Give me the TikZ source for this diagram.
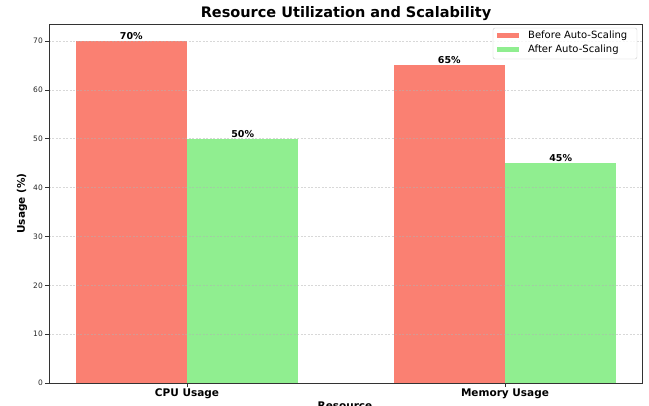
\documentclass[tikz,border=0pt]{standalone}
\usepackage{fontspec}
\setmainfont{DejaVu Sans}
\usepackage{xcolor}
\usepackage{tikz}
\usetikzlibrary{positioning}

\definecolor{salmonbar}{RGB}{250,128,114}
\definecolor{greenbar}{RGB}{144,238,144}

\tikzset{
    gridline/.style={gray!60, dash pattern=on 2pt off 1.5pt, line width=0.4pt, opacity=0.5},
    axisframe/.style={black!80, line width=0.6pt},
    ticklabel/.style={font=\fontsize{7.5}{9}\selectfont, text=black!85, inner sep=0pt},
    vallabel/.style={font=\bfseries\fontsize{9.5}{11}\selectfont, anchor=base, inner sep=0pt},
    axislabel/.style={font=\bfseries\fontsize{10.5}{12}\selectfont, inner sep=0pt},
    legendtext/.style={font=\fontsize{10}{12}\selectfont, anchor=west, inner sep=0pt}
}

\begin{document}
\begin{tikzpicture}[x=1pt, y=1pt]
    \useasboundingbox (0,0) rectangle (649,405);

    % Titolo
    \node[font=\bfseries\fontsize{14.5}{17}\selectfont] (title) at (346,391) {Resource Utilization and Scalability};

    \begin{scope}[shift={(187,22)}, x=318pt, y=4.886pt]
        % Le barre (prima / dopo)
        \fill[salmonbar] (-0.35,0) rectangle (0,70);
        \fill[greenbar] (0,0) rectangle (0.35,50);
        \fill[salmonbar] (0.65,0) rectangle (1,65);
        \fill[greenbar] (1,0) rectangle (1.35,45);

        % Griglia orizzontale
        \draw[gridline] (-0.434,10) -- (1.431,10);
        \draw[gridline] (-0.434,20) -- (1.431,20);
        \draw[gridline] (-0.434,30) -- (1.431,30);
        \draw[gridline] (-0.434,40) -- (1.431,40);
        \draw[gridline] (-0.434,50) -- (1.431,50);
        \draw[gridline] (-0.434,60) -- (1.431,60);
        \draw[gridline] (-0.434,70) -- (1.431,70);

        % Cornice degli assi
        \draw[axisframe] (-0.434,0) rectangle (1.431,73.5);

        % Tacche e numeri sull'asse y
        \draw[axisframe] (-0.434,0) -- ++(-3.5pt,0);
        \draw[axisframe] (-0.434,10) -- ++(-3.5pt,0);
        \draw[axisframe] (-0.434,20) -- ++(-3.5pt,0);
        \draw[axisframe] (-0.434,30) -- ++(-3.5pt,0);
        \draw[axisframe] (-0.434,40) -- ++(-3.5pt,0);
        \draw[axisframe] (-0.434,50) -- ++(-3.5pt,0);
        \draw[axisframe] (-0.434,60) -- ++(-3.5pt,0);
        \draw[axisframe] (-0.434,70) -- ++(-3.5pt,0);
        \node[ticklabel, anchor=east, xshift=-6pt] (y0) at (-0.434,0) {0};
        \node[ticklabel, anchor=east, xshift=-6pt] (y10) at (-0.434,10) {10};
        \node[ticklabel, anchor=east, xshift=-6pt] (y20) at (-0.434,20) {20};
        \node[ticklabel, anchor=east, xshift=-6pt] (y30) at (-0.434,30) {30};
        \node[ticklabel, anchor=east, xshift=-6pt] (y40) at (-0.434,40) {40};
        \node[ticklabel, anchor=east, xshift=-6pt] (y50) at (-0.434,50) {50};
        \node[ticklabel, anchor=east, xshift=-6pt] (y60) at (-0.434,60) {60};
        \node[ticklabel, anchor=east, xshift=-6pt] (y70) at (-0.434,70) {70};

        % Tacche e nomi sull'asse x
        \draw[axisframe] (0,0) -- ++(0,-3.5pt);
        \draw[axisframe] (1,0) -- ++(0,-3.5pt);
        \node[axislabel, anchor=north, yshift=-5.5pt] (cpu) at (0,0) {CPU Usage};
        \node[axislabel, anchor=north, yshift=-5.5pt] (mem) at (1,0) {Memory Usage};

        % Valori sopra le barre
        \node[vallabel, yshift=1.5pt] (v70) at (-0.175,70) {70\%};
        \node[vallabel, yshift=1.5pt] (v50) at (0.175,50) {50\%};
        \node[vallabel, yshift=1.5pt] (v65) at (0.825,65) {65\%};
        \node[vallabel, yshift=1.5pt] (v45) at (1.175,45) {45\%};
    \end{scope}

    % Etichette degli assi
    \node[axislabel, rotate=90] (ylab) at (22,201.5) {Usage (\%)};
    \node[axislabel, anchor=north] (xlab) at (345,3.5) {Resource};

    % Legenda
    \draw[gray!40, fill=white, fill opacity=0.8, rounded corners=2pt] (493,346) rectangle (637,377);
    \fill[salmonbar] (497,367) rectangle (519,372);
    \fill[greenbar] (497,353) rectangle (519,358);
    \node[legendtext] (before) at (528,369.5) {Before Auto-Scaling};
    \node[legendtext] (after) at (528,355.5) {After Auto-Scaling};

\end{tikzpicture}
\end{document}
